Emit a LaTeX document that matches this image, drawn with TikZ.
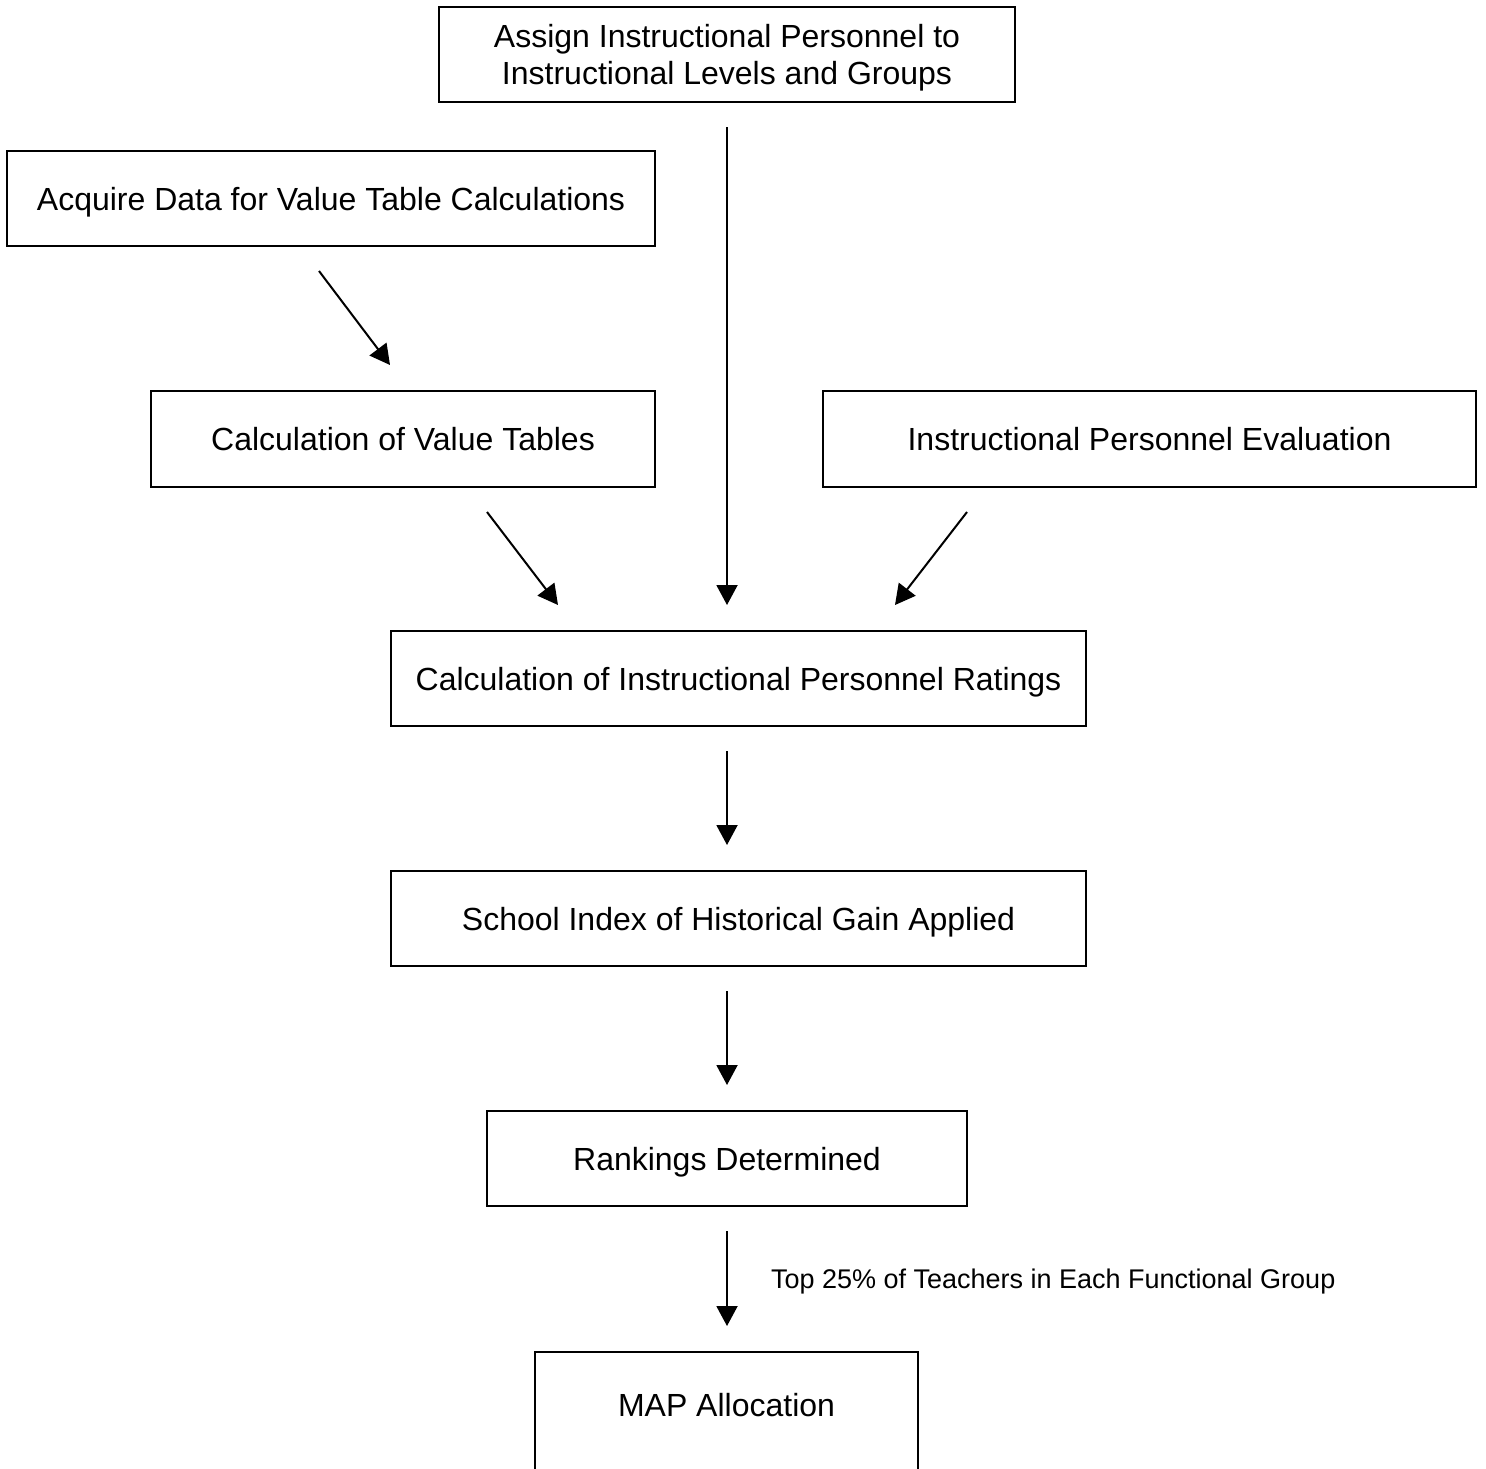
\documentclass[tikz,border=0pt]{standalone}
\usepackage{fontspec}
\setmainfont{Liberation Sans}
\usetikzlibrary{arrows.meta}
\begin{document}
\begin{tikzpicture}[x=0.5pt,y=-0.5pt,
  box/.style={draw,line width=1pt,inner sep=0pt,font=\fontsize{16}{18.5}\selectfont,align=center,text height=11.5pt,text depth=0pt},
  arr/.style={line width=1pt,-{Triangle[length=10pt,width=10.5pt]}},
  note/.style={font=\fontsize{13.5}{16}\selectfont,inner sep=0pt,text height=9.7pt,text depth=0pt}]
\useasboundingbox (0,0) rectangle (1486,1468);
\clip (0,0) rectangle (1486,1468);
\node[box,minimum width=288pt,minimum height=47.5pt,text height=30pt] (assign) at (727,54.5)
  {Assign Instructional Personnel to\\Instructional Levels and Groups};
\node[box,minimum width=324pt,minimum height=47.5pt] (acq) at (331,198.5)
  {Acquire Data for Value Table Calculations};
\node[box,minimum width=252pt,minimum height=48pt] (cvt) at (403,439)
  {Calculation of Value Tables};
\node[box,minimum width=326.5pt,minimum height=48pt] (eval) at (1149.5,439)
  {Instructional Personnel Evaluation};
\node[box,minimum width=347.5pt,minimum height=47.5pt] (rat) at (738.5,678.5)
  {Calculation of Instructional Personnel Ratings};
\node[box,minimum width=347.5pt,minimum height=47.5pt] (school) at (738.5,918.5)
  {School Index of Historical Gain Applied};
\node[box,minimum width=240pt,minimum height=47.5pt] (rank) at (727,1158.5)
  {Rankings Determined};
\node[box,minimum width=191.5pt,minimum height=75pt,anchor=north,text height=10pt,text depth=20.6pt] (map) at (726.5,1351)
  {MAP Allocation};
\draw[arr] ([shift={(-12,24)}]acq.south) -- ([shift={(-13,-25)}]cvt.north);
\draw[arr] ([shift={(0,24)}]assign.south) -- ([shift={(-11.5,-25)}]rat.north);
\draw[arr] ([shift={(84,24)}]cvt.south) -- ([shift={(-180.5,-25)}]rat.north);
\draw[arr] ([shift={(-182.5,24)}]eval.south) -- ([shift={(156.5,-25)}]rat.north);
\draw[arr] ([shift={(-11.5,24)}]rat.south) -- ([shift={(-11.5,-25)}]school.north);
\draw[arr] ([shift={(-11.5,24)}]school.south) -- ([shift={(0,-25)}]rank.north);
\draw[arr] ([shift={(0,24)}]rank.south) -- ([shift={(0.5,-25)}]map.north)
  node[note,pos=0.5,anchor=west,xshift=21.5pt] (lbl) {Top 25\% of Teachers in Each Functional Group};
\end{tikzpicture}
\end{document}
